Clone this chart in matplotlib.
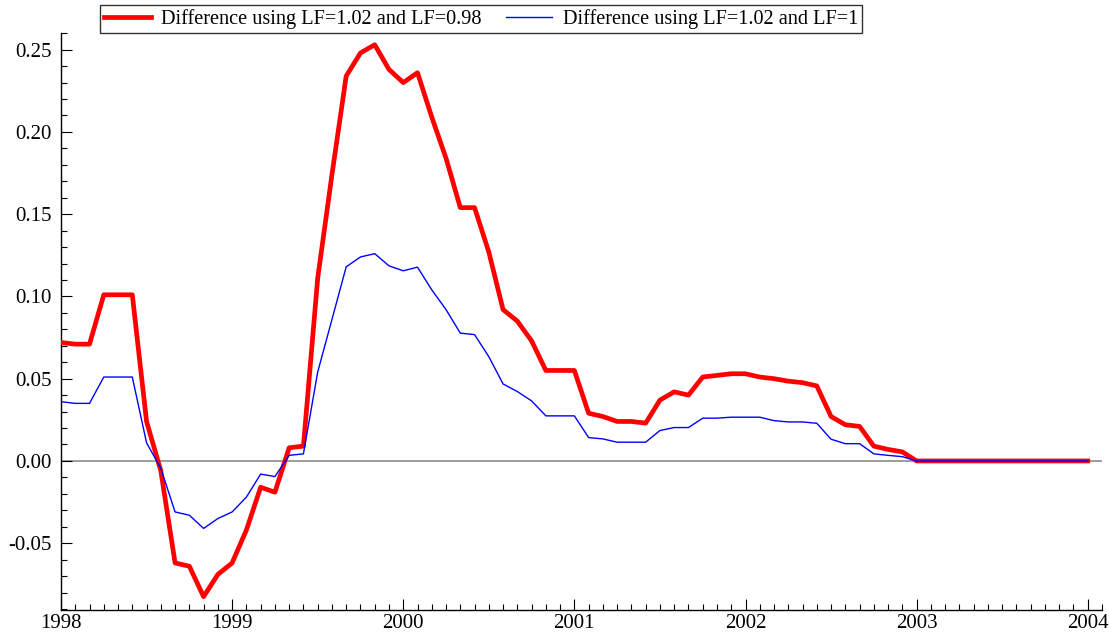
import numpy as np
import matplotlib
matplotlib.use("Agg")
import matplotlib.pyplot as plt
from matplotlib.ticker import MultipleLocator

# monthly observations, Jan 1998 .. Jan 2004
start_year = 1998
n_months = 73

diff_098 = [
    0.072, 0.071, 0.071, 0.101, 0.101, 0.101, 0.024, -0.006, -0.062, -0.064,
    -0.0825, -0.069, -0.062, -0.042, -0.016, -0.019, 0.008, 0.009, 0.111, 0.174,
    0.234, 0.248, 0.253, 0.238, 0.230, 0.236, 0.209, 0.184, 0.154, 0.154,
    0.127, 0.092, 0.085, 0.073, 0.055, 0.055, 0.055, 0.029, 0.027, 0.024,
    0.024, 0.023, 0.037, 0.042, 0.040, 0.051, 0.052, 0.053, 0.053, 0.051,
    0.050, 0.0485, 0.0476, 0.0456, 0.027, 0.022, 0.021, 0.009, 0.007, 0.0055,
    0.0, 0.0, 0.0, 0.0, 0.0, 0.0, 0.0, 0.0, 0.0, 0.0,
    0.0, 0.0, 0.0,
]
diff_100 = [
    0.036, 0.035, 0.035, 0.051, 0.051, 0.051, 0.011, -0.0045, -0.031, -0.033,
    -0.041, -0.035, -0.031, -0.022, -0.008, -0.0095, 0.0034, 0.0043, 0.054, 0.086,
    0.118, 0.124, 0.126, 0.1186, 0.1156, 0.1178, 0.104, 0.092, 0.0777, 0.0768,
    0.0634, 0.0468, 0.0422, 0.0365, 0.0274, 0.0274, 0.0274, 0.0142, 0.0134, 0.0114,
    0.0114, 0.0114, 0.0185, 0.0203, 0.0203, 0.026, 0.026, 0.0266, 0.0266, 0.0266,
    0.0245, 0.0237, 0.0237, 0.0229, 0.0132, 0.0105, 0.0105, 0.0043, 0.0034, 0.0026,
    0.0, 0.0, 0.0, 0.0, 0.0, 0.0, 0.0, 0.0, 0.0, 0.0,
    0.0, 0.0, 0.0,
]
labels = [
    "Difference using LF=1.02 and LF=0.98",
    "Difference using LF=1.02 and LF=1",
]

t = start_year + np.arange(n_months) / 12.0

plt.rcParams["font.family"] = ["Liberation Serif", "DejaVu Serif"]

fig = plt.figure(figsize=(11.09, 6.39), dpi=100)
ax = fig.add_axes([0.055, 0.0454, 0.9387, 0.9026])

ax.axhline(0, color="#8c8c8c", lw=1.2, zorder=1)
ax.plot(t, diff_098, color="#ff0000", lw=3.4, label=labels[0], zorder=3)
ax.plot(t, diff_100, color="#0000ff", lw=1.0, label=labels[1], zorder=4)

ax.set_xlim(start_year, start_year + 73 / 12.0)
ax.set_ylim(-0.0906, 0.260)

ax.xaxis.set_major_locator(MultipleLocator(1))
ax.xaxis.set_minor_locator(MultipleLocator(1 / 12))
ax.yaxis.set_major_locator(MultipleLocator(0.05))
ax.yaxis.set_minor_locator(MultipleLocator(0.01))
ax.xaxis.set_major_formatter(plt.FuncFormatter(lambda v, p: f"{v:.0f}"))
ax.yaxis.set_major_formatter(plt.FuncFormatter(lambda v, p: f"{v:.2f}"))

for s in ("top", "right"):
    ax.spines[s].set_visible(False)
for s in ("left", "bottom"):
    ax.spines[s].set_linewidth(1.0)

ax.tick_params(which="both", direction="in", labelsize=15, width=0.8)
ax.tick_params(which="major", length=8)
ax.tick_params(which="minor", length=4.5)
ax.tick_params(axis="y", pad=7)
ax.tick_params(axis="x", pad=3)

leg = ax.legend(loc="lower center", bbox_to_anchor=(0.4035, 1.0), ncol=2,
                fontsize=14.6, frameon=True, fancybox=False, edgecolor="black",
                handlelength=2.3, borderpad=0.2, columnspacing=1.2,
                handletextpad=0.5, borderaxespad=0.0)
leg.get_frame().set_linewidth(1.0)

fig.savefig("out.png", dpi=100)
